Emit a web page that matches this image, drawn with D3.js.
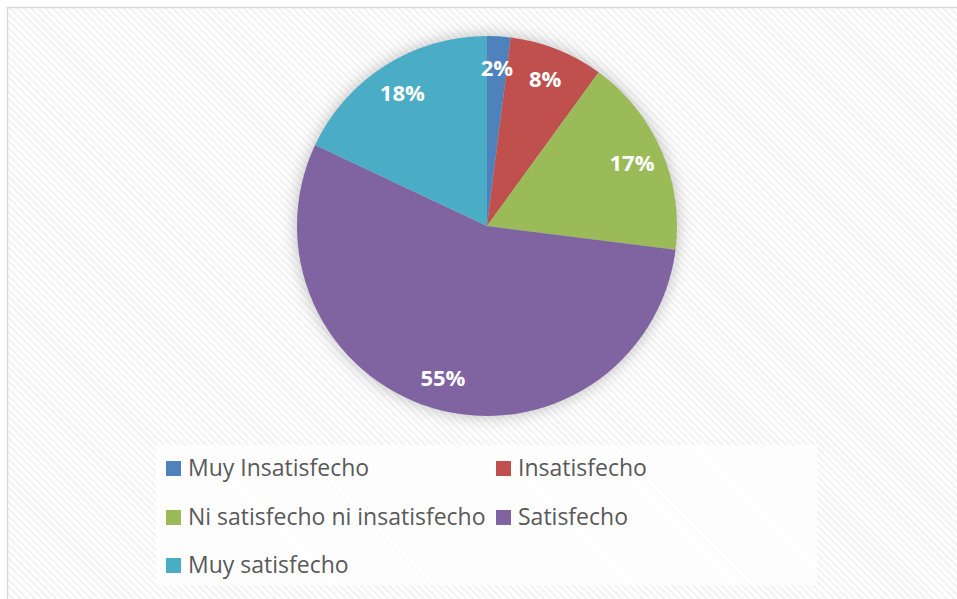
<!DOCTYPE html>
<html>
<head>
<meta charset="utf-8">
<script src="https://cdn.jsdelivr.net/npm/d3@7"></script>
<style>
  html, body { margin: 0; padding: 0; background: #fff; }
  svg { display: block; }
</style>
</head>
<body>
<div id="chart"></div>
<script>
// Data
const categories = ["Muy Insatisfecho", "Insatisfecho", "Ni satisfecho ni insatisfecho", "Satisfecho", "Muy satisfecho"];
const values = [2, 8, 17, 55, 18];
const labels = ["2%", "8%", "17%", "55%", "18%"];
const colors = ["#4f81bd", "#c0504d", "#9bbb59", "#8064a2", "#4bacc6"];

const W = 957, H = 599;
const cx = 487, cy = 226, radius = 190;

const svg = d3.select("#chart").append("svg")
    .attr("width", W)
    .attr("height", H);

const defs = svg.append("defs");

// diagonal stripe background
const pat = defs.append("pattern")
    .attr("id", "stripes")
    .attr("width", 5).attr("height", 5)
    .attr("patternUnits", "userSpaceOnUse")
    .attr("patternTransform", "rotate(-45)");
pat.append("rect").attr("width", 5).attr("height", 5).attr("fill", "#ffffff");
pat.append("rect").attr("width", 2.5).attr("height", 5).attr("fill", "#f3f3f3");

// soft shadow around the pie
const f = defs.append("filter").attr("id", "glow")
    .attr("x", "-20%").attr("y", "-20%").attr("width", "140%").attr("height", "140%");
f.append("feGaussianBlur").attr("in", "SourceAlpha").attr("stdDeviation", 7).attr("result", "b");
f.append("feFlood").attr("flood-color", "#000").attr("flood-opacity", 0.2);
f.append("feComposite").attr("in2", "b").attr("operator", "in");

svg.append("rect")
    .attr("x", 7.5).attr("y", 7.5)
    .attr("width", W).attr("height", H)
    .attr("fill", "url(#stripes)")
    .attr("stroke", "#d9d9d9").attr("stroke-width", 1.5);

const pie = d3.pie().sort(null).value(d => d)(values);
const arc = d3.arc().innerRadius(0).outerRadius(radius);
const labelArc = d3.arc().innerRadius(158).outerRadius(158);

const g = svg.append("g").attr("transform", `translate(${cx},${cy})`);

g.append("circle")
    .attr("r", radius + 2)
    .attr("filter", "url(#glow)");

g.selectAll("path.slice")
    .data(pie)
    .join("path")
    .attr("class", "slice")
    .attr("d", arc)
    .attr("fill", (d, i) => colors[i]);

g.selectAll("text.lbl")
    .data(pie)
    .join("text")
    .attr("class", "lbl")
    .attr("transform", d => `translate(${labelArc.centroid(d)})`)
    .attr("text-anchor", "middle")
    .attr("dy", "0.36em")
    .attr("fill", "#fff")
    .style("font-family", "'Open Sans', sans-serif")
    .style("font-weight", "bold")
    .style("font-size", "22px")
    .text((d, i) => labels[i]);

// Legend
const legend = svg.append("g");
legend.append("rect")
    .attr("x", 156).attr("y", 445)
    .attr("width", 661).attr("height", 140)
    .attr("fill", "#ffffff").attr("fill-opacity", 0.75);

const colX = [166, 496];
const rowY = [468, 517, 565];
const items = legend.selectAll("g.item")
    .data(categories)
    .join("g")
    .attr("class", "item")
    .attr("transform", (d, i) => `translate(${colX[i % 2]},${rowY[Math.floor(i / 2)]})`);

items.append("rect")
    .attr("x", 0).attr("y", -7)
    .attr("width", 15).attr("height", 15)
    .attr("fill", (d, i) => colors[i]);

items.append("text")
    .attr("x", 22)
    .attr("dy", "0.36em")
    .attr("fill", "#595959")
    .style("font-family", "'Open Sans', sans-serif")
    .style("font-size", "23px")
    .text(d => d);
</script>
</body>
</html>
